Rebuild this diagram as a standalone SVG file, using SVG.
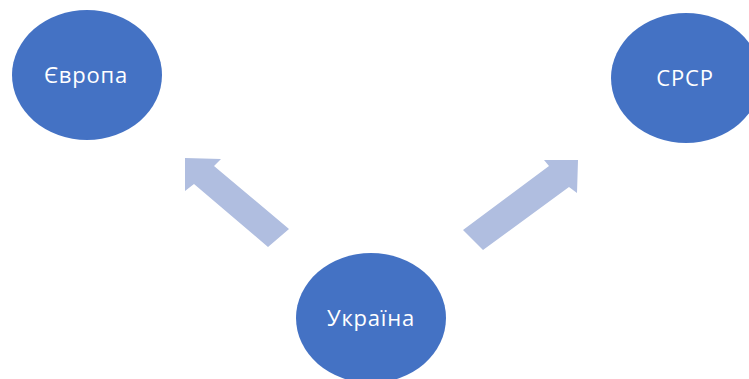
<svg xmlns="http://www.w3.org/2000/svg" width="749" height="379" viewBox="0 0 749 379">
<style>
.node{fill:#4472C4;}
.lbl{fill:#FFFFFF;font-family:"Open Sans","Noto Sans","DejaVu Sans",sans-serif;font-size:22px;letter-spacing:0.8px;text-anchor:middle;dominant-baseline:central;}
.arr{fill:#B0BEE0;}
</style>
<rect width="749" height="379" fill="#FFFFFF"/>
<g id="connectors">
<polygon class="arr" points="185,158 221,159 214,166 289,229 268,247 194,184 185,191"/>
<polygon class="arr" points="578,160 544,160 549,166 463,230 483,250 569,187 577,193"/>
</g>
<g id="node-europe">
<ellipse class="node" cx="87" cy="75" rx="75" ry="65"/>
<text class="lbl" x="86" y="74">Європа</text>
</g>
<g id="node-ussr">
<ellipse class="node" cx="686" cy="78" rx="75" ry="65"/>
<text class="lbl" x="685" y="77">СРСР</text>
</g>
<g id="node-ukraine">
<ellipse class="node" cx="371" cy="318" rx="75" ry="65"/>
<text class="lbl" x="371" y="317">Україна</text>
</g>
</svg>
